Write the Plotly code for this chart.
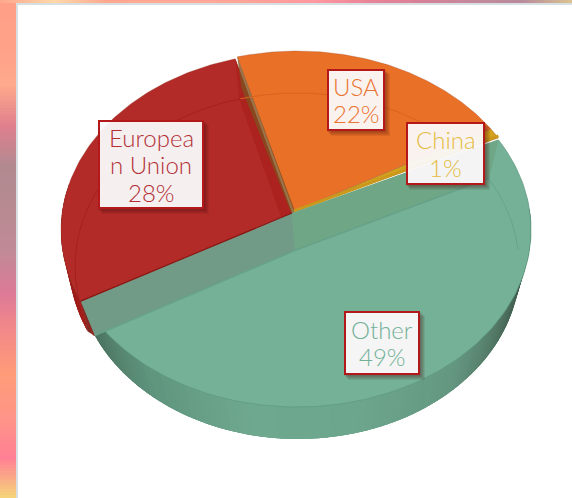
import numpy as np
import plotly.graph_objects as go

categories = ["China", "USA", "European Union", "Other"]
values = [1, 22, 28, 49]
label_lines = [["China", "1%"], ["USA", "22%"], ["Europea", "n Union", "28%"], ["Other", "49%"]]
top_colors = ["#d3a11d", "#e97027", "#b22b29", "#75b197"]
text_colors = ["#e6bc44", "#ec7430", "#b22f36", "#72b098"]
left_strip = ["#ff9f88", "#ffa088", "#ffa98c", "#e07f8e", "#b08a90", "#b88a92", "#c08a96", "#dc7a98", "#f58a88", "#ff9c78", "#ff9488", "#ff8094", "#f5d878"]
top_strip = ["#ffa890", "#ffd8a8", "#ffa890", "#ffa894", "#ffa898", "#ffa098", "#ff98a0", "#ea8498", "#d88098", "#c48a9c", "#b88a9c", "#dcc690"]

START = 24.0
TOP = dict(cx=296, cy=229, rx=234, ry=177, ax=-0.013, ay=0.096)
BOT = dict(cx=297, cy=266, rx=222, ry=173, ax=-0.013, ay=0.096)

def ray(t_deg, e):
    t = np.radians(np.asarray(t_deg, dtype=float))
    dx, dy = np.cos(t), np.sin(t)
    b = e["ax"] * dx + e["ay"] * dy
    c = e["ax"] ** 2 + e["ay"] ** 2 - 1
    s = -b + np.sqrt(b * b - c)
    return e["cx"] + e["rx"] * (e["ax"] + s * dx), e["cy"] - e["ry"] * (e["ay"] + s * dy)

def apex(e):
    return e["cx"] + e["rx"] * e["ax"], e["cy"] - e["ry"] * e["ay"]

def warp(t):
    # perspective foreshortening of the pie angle
    return t + 1.3 * np.sin(np.radians(2 * (t + 21)))

cum = warp(START + np.cumsum([0] + values) * 3.6)
spans = [(cum[i], cum[i + 1]) for i in range(len(values))]
offsets = [(1, -1), (1, -1), (-1, 1), (1, 1)]

fig = go.Figure()

def poly(xs, ys, fill, line=None, width=0):
    fig.add_trace(go.Scatter(x=list(xs), y=list(ys), mode="lines", fill="toself", fillcolor=fill,
                             line=dict(color=line or fill, width=width), hoverinfo="skip", showlegend=False))

def curve(xs, ys, color, width=1):
    fig.add_trace(go.Scatter(x=list(xs), y=list(ys), mode="lines", line=dict(color=color, width=width),
                             hoverinfo="skip", showlegend=False))

def mix(c1, c2, f):
    return "rgb(%d,%d,%d)" % tuple(round(a + (b - a) * f) for a, b in zip(c1, c2))

def rgb(h):
    return tuple(int(h[k:k + 2], 16) for k in (1, 3, 5))

# side walls: one base shape, then overlapping shaded strips
def wall(t0, t1, stops, tdx=0, tdy=0, bdx=0, bdy=0, n=60):
    base = np.linspace(t0, t1, 200)
    xa, ya = ray(base, TOP)
    xb, yb = ray(base[::-1], BOT)
    poly(np.r_[xa + tdx, xb + bdx], np.r_[ya + tdy, yb + bdy], mix(stops[len(stops) // 2], stops[len(stops) // 2], 0))
    edges = np.linspace(t0, t1, n + 1)
    for i in range(n):
        tt = np.linspace(edges[i], min(edges[i + 1] + 3, t1), 4)
        xa, ya = ray(tt, TOP)
        xb, yb = ray(tt[::-1], BOT)
        f = (i + 0.5) / n * (len(stops) - 1)
        k = min(int(f), len(stops) - 2)
        col = mix(stops[k], stops[k + 1], f - k)
        poly(np.r_[xa + tdx, xb + bdx], np.r_[ya + tdy, yb + bdy], col)

wall(170, spans[2][1], [(120, 24, 20), (140, 26, 22), (165, 30, 28)], -1, 1, -6, -4, 20)
wall(spans[3][0], 361, [(72, 110, 92), (95, 148, 125), (110, 168, 142), (108, 166, 140), (100, 150, 128), (70, 100, 84), (52, 74, 62)], 1, 0, 1, 0, 90)

# end face closing the gap beside the left end of the chord
lx, ly = ray(spans[3][0], TOP)
lb, lby = ray(spans[3][0], BOT)
poly([lx - 1, lb - 6, lb + 2, lx + 1, lx - 1], [ly + 1, lby - 4, lby + 1, ly + 1, ly + 1], "#7f2a22")

# top faces
for i, (t0, t1) in enumerate(spans):
    ox, oy = offsets[i]
    tt = np.linspace(t0, t1, 120)
    ax, ay = apex(TOP)
    x, y = ray(tt, TOP)
    poly(np.r_[ax + ox, x + ox, ax + ox], np.r_[ay + oy, y + oy, ay + oy], top_colors[i],
         line="rgba(140,60,30,0.35)" if i < 3 else "#5f9a82", width=0.8)

# inner walls seen through the glassy faces
ax, ay = apex(TOP)
bx, by = apex(BOT)
ex, ey = ray(spans[2][0], TOP)
fx, fy = ray(spans[2][0], BOT)
poly([ex - 1, fx - 1, bx - 10, ax - 1, ex - 1], [ey + 1, fy + 1, by - 24, ay + 1, ey + 1], "#ab221e")
ex2, ey2 = ray(spans[1][1], TOP)
poly([ex2 + 1, ex2 + 5, ax - 1, ax + 2, ex2 + 1], [ey2 - 1, ey2 + 30, ay + 3, ay - 1, ey2 - 1], "rgba(130,80,30,0.8)")

# the chord wall of the front slice, seen through its face
rx_, ry_ = ray(spans[3][1], TOP)
rb, rby = ray(spans[3][1], BOT)
curve([ax + 1, rx_ + 1], [ay - 1, ry_ - 3], "#c9981c", 3)
poly([lx - 1, ax - 1, bx + 1, lb + 1, lx - 1], [ly + 1, ay + 1, by + 1, lby, ly + 1], "#729b87")
poly([ax - 1, rx_ + 1, rb + 1, bx + 1, ax - 1], [ay + 1, ry_ + 1, rby, by + 1, ay + 1], "#6ea686")
curve([lb + 1, bx + 1, rb + 1], [lby, by + 1, rby], "#66a289", 1.5)
curve([lx - 1, ax - 1], [ly + 1, ay + 1], "#8a1512", 1.2)

# far rim seen through the faces
for a, b, col in [(spans[2][0], spans[2][1], "#a3211f"), (spans[1][0] + 6, spans[1][1], "#d9641f"), (0, spans[3][1] - 360, "#68a48b")]:
    tt = np.linspace(a, b, 80)
    x, y = ray(tt, BOT)
    curve(x, y, col, 1)

# label boxes, in pixels
boxes = [(407, 123, 484, 184), (328, 70, 384, 130), (99, 121, 203, 208), (345, 312, 419, 374)]
shapes = []
for x0, y0, x1, y1 in boxes:
    for s in (6, 5, 4, 3, 2):
        shapes.append(dict(type="rect", x0=x0 - 1 + s - 2, x1=x1 + s, y0=y0 + s - 2, y1=y1 + s, xref="x", yref="y",
                           fillcolor="rgba(70,10,10,0.09)", line=dict(width=0), layer="above"))
    shapes.append(dict(type="rect", x0=x0, x1=x1, y0=y0, y1=y1, xref="x", yref="y",
                       fillcolor="rgba(255,255,255,0.93)", line=dict(color="#b3181a", width=2), layer="above"))

# backdrop strips
back = []
stops = np.linspace(0, 498, len(left_strip))
for y in range(0, 498, 3):
    k = min(int(np.searchsorted(stops, y, side="right")) - 1, len(left_strip) - 2)
    f = (y - stops[k]) / (stops[k + 1] - stops[k])
    back.append(dict(type="rect", x0=0, x1=16, y0=y, y1=y + 3,
                     fillcolor=mix(rgb(left_strip[k]), rgb(left_strip[k + 1]), f), line=dict(width=0), layer="below"))
stops = np.linspace(0, 572, len(top_strip))
for x in range(0, 572, 4):
    k = min(int(np.searchsorted(stops, x, side="right")) - 1, len(top_strip) - 2)
    f = (x - stops[k]) / (stops[k + 1] - stops[k])
    back.append(dict(type="rect", x0=x, x1=x + 4, y0=0, y1=3,
                     fillcolor=mix(rgb(top_strip[k]), rgb(top_strip[k + 1]), f), line=dict(width=0), layer="below"))
back.append(dict(type="rect", x0=16, x1=18, y0=3, y1=498, fillcolor="#d8dfe2", line=dict(width=0), layer="below"))
back.append(dict(type="rect", x0=16, x1=572, y0=3, y1=5, fillcolor="#d8dfe2", line=dict(width=0), layer="below"))

LINE_STEP = 27.5
annotations = []
for (x0, y0, x1, y1), lines, col in zip(boxes, label_lines, text_colors):
    mid = (y0 + y1) / 2
    for j, txt in enumerate(lines):
        annotations.append(dict(x=(x0 + x1) / 2, y=mid + (j - (len(lines) - 1) / 2) * LINE_STEP, xref="x", yref="y",
                                text=txt, showarrow=False, align="center", xanchor="center", yanchor="middle",
                                font=dict(family="Lato, sans-serif", size=24, color=col, weight=300)))

fig.update_layout(
    width=572, height=498, margin=dict(l=0, r=0, t=0, b=0), autosize=False,
    paper_bgcolor="white", plot_bgcolor="white", showlegend=False,
    xaxis=dict(range=[0, 572], visible=False, fixedrange=True),
    yaxis=dict(range=[498, 0], visible=False, fixedrange=True),
    shapes=back + shapes, annotations=annotations,
)
fig.write_html("out.html", config=dict(displayModeBar=False),
               post_script="document.body.style.margin='0';document.body.style.overflow='hidden';")
